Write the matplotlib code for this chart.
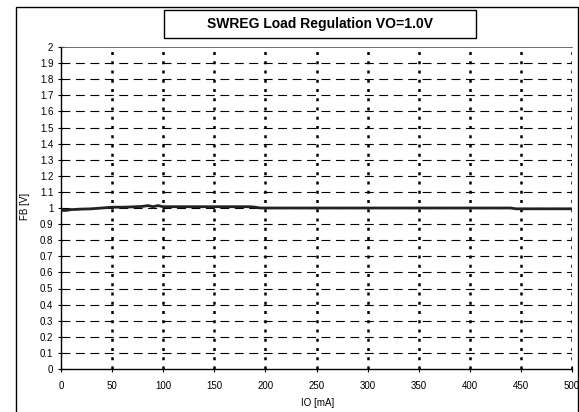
import numpy as np
import matplotlib.pyplot as plt
from matplotlib.patches import Rectangle

plt.rcParams["font.family"] = ["Liberation Sans", "DejaVu Sans"]

# load regulation curve
io_ma = [0, 5, 10, 20, 30, 40, 50, 60, 70, 80, 85, 90, 95, 100, 110, 130,
         150, 170, 185, 190, 195, 200, 250, 300, 350, 400, 440, 445, 450, 500]
fb_v = [0.985, 0.985, 0.99, 0.993, 0.995, 1.0, 1.005, 1.005, 1.007, 1.01, 1.015,
        1.008, 1.015, 1.008, 1.008, 1.008, 1.008, 1.008, 1.008, 1.005, 1.0, 1.0,
        1.0, 1.0, 1.0, 1.0, 1.0, 0.995, 0.995, 0.995]

x_ticks = np.arange(0, 501, 50)
y_ticks = np.round(np.arange(0, 2.01, 0.1), 1)
y_labels = [f"{v:g}" for v in y_ticks]

fig = plt.figure(figsize=(5.79, 4.12), dpi=100)
ax = fig.add_axes([61 / 579, 1 - 369 / 412, 511 / 579, 322 / 412])

# outer chart frame
fig.patches.append(Rectangle((15.5 / 579, -0.01), 562 / 579, 1 - 7 / 412 + 0.01,
                             transform=fig.transFigure, fill=False,
                             edgecolor="black", linewidth=1.0))
# title box
fig.patches.append(Rectangle((164 / 579, 1 - 38 / 412), 312 / 579, 28 / 412,
                             transform=fig.transFigure, fill=False,
                             edgecolor="black", linewidth=1.0))
fig.text(320 / 579, 1 - 24 / 412, "SWREG Load Regulation VO=1.0V",
         ha="center", va="center", fontsize=10, fontweight="bold")

for y in y_ticks[1:-1]:
    ax.axhline(y, color="black", linestyle=(0, (8, 5)), linewidth=0.8, zorder=1)
for x in x_ticks[1:]:
    ax.axvline(x, color="black", linestyle=(0, (1.2, 2.5)), linewidth=1.8, zorder=1)

ax.plot(io_ma, fb_v, color="#222222", linewidth=2.0, zorder=3)

ax.set_xlim(0, 500)
ax.set_ylim(0, 2)
ax.set_xticks(x_ticks)
ax.set_yticks(y_ticks)
ax.set_yticklabels(y_labels)
ax.tick_params(axis="both", direction="inout", length=5, width=0.8,
               labelsize=7, pad=3)
ax.tick_params(axis="x", pad=6)

ax.spines["right"].set_visible(False)
ax.spines["top"].set_color("#555555")
ax.spines["top"].set_linewidth(0.6)
ax.spines["left"].set_linewidth(1.0)
ax.spines["bottom"].set_linewidth(1.0)

fig.text(318 / 579, 1 - 403 / 412, "IO [mA]", ha="center", va="center", fontsize=7)
fig.text(25 / 579, 1 - 206 / 412, "FB [V]", ha="center", va="center",
         fontsize=7, rotation=90)

plt.savefig("out.png", dpi=100)
plt.close()
